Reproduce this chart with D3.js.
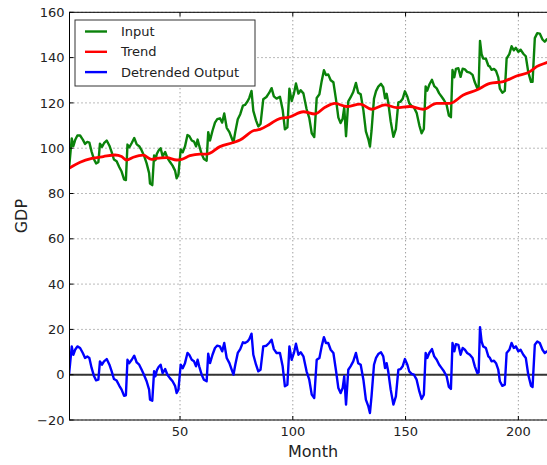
<!DOCTYPE html>
<html lang="en">
<head>
<meta charset="UTF-8">
<title>GDP detrend</title>
<script src="https://d3js.org/d3.v7.min.js"></script>
<style>
  body { margin: 0; background: #fff; }
  svg { display: block; font-family: "DejaVu Sans", sans-serif; }
</style>
</head>
<body>
<div id="chart"></div>
<script>
// sample months (x) shared by input and detrended output
var months = [0.8,2,2.7,3.5,4.5,5.7,6.9,7.9,8.9,9.8,10.8,11.9,12.8,13.8,14.5,15.4,16.3,17.5,18.7,19.7,
  20.7,21.9,23.1,24.1,25.2,26,26.7,27.5,28.6,29.7,30.8,31.9,33,34,35.2,36.3,36.7,37.7,38.5,39.1,
  39.7,40.5,41.4,42.3,43.4,44.4,45.5,46.7,47.8,48.5,49.3,50.3,51.2,52.2,53.3,54.1,55.2,56.2,57.1,57.8,
  58.5,59.6,60.6,61.8,62.5,63.3,64.4,65.5,66.5,67.7,68.7,69.6,70.7,71.9,72.9,73.7,74.5,75.6,76.7,77.9,
  78.8,79.9,80.7,81.7,82.5,83.7,84.7,85.7,86.9,88.3,89.5,90.6,91.6,92.8,94.3,95.5,96.5,97.6,98.5,99.5,
  100.5,101.4,102.5,103.5,104.7,106.1,107.3,108.4,109.5,110.6,111.8,112.8,113.8,114.7,115.7,116.8,118,119.1,120.2,121.2,
  122.1,122.8,123.6,124.6,125.6,126.8,128,129,130.1,131.3,132.4,133.5,134.2,134.9,136,136.9,137.9,139.1,140.1,140.9,
  141.6,142.3,143.4,144.6,145.7,146.8,147.8,148.7,149.7,150.8,151.6,152.7,153.7,154.9,156.1,157.1,158.1,158.9,159.6,160.5,
  161.7,162.7,163.8,164.9,166,167,168.2,169.2,170.1,170.8,171.6,172.3,173.4,174.4,175.3,176.3,177.3,178.5,179.7,180.7,
  181.8,182.4,183,183.7,184.4,185.6,186.7,187.4,188.1,189.2,190.1,191.1,191.8,192.9,194,194.8,196,197,198,198.9,
  200,201,202.2,203.3,204.4,205.6,206.3,207.3,208.4,209.5,210.7,211.7,212.6,214,216.5];

var inputValues = [91.1,104.3,100.9,103.6,105.6,105.6,103.8,101.9,102.8,102.5,98.5,95,93.3,93.8,102,100.6,102.2,103.4,101.1,98.3,
  95,94.2,91.6,89.7,86.2,85.9,101.6,100.4,102.3,104.5,101.7,100.9,99,96.8,93.3,89,84.4,83.7,96.8,94.7,
  97.4,99,100,96.4,98.3,95.7,94,92.3,90.1,86.7,88.3,99.4,98.2,100.8,105.8,105.4,103.4,102.9,100.8,103.8,
  101.1,97.4,95.2,94.5,107.1,103.4,107.7,111.3,112.8,113.2,111.3,115.3,109,107.1,104.5,102.5,107.2,112.8,115,118.8,
  119.1,120.6,122.2,125.3,116.5,112.3,109.6,110.7,121.6,122.6,124.4,126.5,122.9,121.9,122.7,117,108.3,109.2,126.3,120.8,
  124.1,128.6,124.1,125.6,124.2,117.3,113.4,106.6,104.9,122.2,123.8,129.6,134.4,132.3,132.6,130,129.1,121.9,113.5,111.1,
  113,118,105.3,120.7,122.4,124.8,128.8,124.5,123.8,116.7,107.4,103.9,100.7,107.6,121.9,125.2,127.2,128.4,126.9,122,
  124,120.3,111.9,105,108.4,120.2,120.6,121.8,125.1,122.7,119.9,118.6,118,115.6,110.1,106.6,108.5,127.3,125.4,128,
  130.2,127.4,126.4,124.2,122.7,121.3,119.1,114.4,113.7,134.5,131.3,135,135.3,131.5,135.1,134.8,133.7,133.4,132.4,129.1,
  126.5,127.1,147.4,141.5,139.6,139.5,136.4,136,134.6,135,134.1,131.3,126.3,124.5,125.3,139.6,141.5,145,143.2,144.3,
  142.5,143.5,141.7,140.6,133.6,129.3,129.3,148.6,150.8,150.6,148,147,148.1,147.3,147.3];

var detrendedValues = [0,12.5,8.8,11,12.5,11.8,9.6,7.4,8,7.4,3,-0.7,-2.5,-2.2,5.9,4.4,5.9,6.9,4.4,1.5,
  -1.9,-2.6,-4.9,-6.6,-9.3,-9.1,6.6,5.1,6.6,8.4,5.4,4.4,2.2,0,-2.9,-6.6,-11,-11.5,1.5,-0.7,
  1.9,3.4,4.4,0.7,2.5,0,-1.5,-2.9,-4.9,-8.1,-6.6,4.4,2.9,5.1,9.6,8.8,6.6,5.9,3.7,6.6,
  3.7,0,-2.2,-2.9,9.3,5.1,8.8,11.8,12.8,12.5,10.3,14,7.4,5.1,2.2,0,4.4,9.6,11.3,14.3,
  14,14.7,15.7,18.1,8.8,4.4,1.5,2.2,12.5,12.8,14,15.4,11.3,9.6,9.6,3.7,-5.1,-4.4,12.5,6.6,
  9.6,13.7,8.8,9.9,8.1,1.5,-2.2,-8.8,-10.3,6.6,7.4,12.5,16.6,14,14,11,9.6,2.2,-5.9,-8.1,
  -5.9,-0.7,-13.2,2.2,3.7,5.9,9.6,5.1,4.4,-2.2,-11,-14,-16.9,-9.6,4.4,7.4,9.1,9.9,8.1,2.9,
  5.1,1.5,-6.6,-13.2,-9.6,2.2,2.5,3.7,6.9,4.4,1.5,0.4,0,-2.2,-7.4,-10.7,-8.8,9.6,7.4,9.6,
  11.3,8.1,6.6,4.4,2.9,1.5,-0.7,-5.4,-6.3,14,10.3,13.5,13.2,8.8,11.8,11,9.6,8.8,7.4,3.7,
  0.7,1,21,14.7,12.5,11.8,8.1,7.4,5.9,6.2,5.1,2.2,-2.9,-4.9,-4.4,9.6,11,14,11.8,12.5,
  10.3,11,8.8,7.4,0,-4.9,-5.4,13.2,14.7,14,11,9.6,10.3,9,8];

var trendMonths = [0.8,5.7,10.9,16,21.2,24.1,26.3,29.3,33.7,37.4,39.6,44.1,48.5,50.7,54.4,58.8,61.8,67.7,73.6,76.6,
  82.5,85.4,89.8,94.2,98,104.7,109.8,114.3,118.7,123.9,129.8,135,140.9,146,151.9,157.8,163.8,169.7,175.6,181.5,
  187.4,193.3,199.2,205.1,208.1,212.6,216.5];
var trendValues = [91.1,93.8,95.5,96.3,97,96.3,94.8,96,96.9,95.1,95.5,95.8,94.8,95.1,96.7,97.4,97.4,100.7,102.5,103.6,
  107.7,108.3,110.6,113.1,113.6,116.1,115.1,118.1,119.8,118.4,119.5,117.2,119.1,117.9,118.4,117.2,119.8,119.8,123.5,125.7,
  128.6,129.4,131.9,133.8,136,137.8,139.3];

var xTicks = [50, 100, 150, 200];
var yTicks = [-20, 0, 20, 40, 60, 80, 100, 120, 140, 160];
var legendNames = ["Input", "Trend", "Detrended Output"];
var legendColors = ["#0a820a", "#ff0000", "#0000ff"];

var W = 547, H = 465;
var pLeft = 69.5, pRight = 556.7, pTop = 12.3, pBottom = 420;

var svg = d3.select("#chart").append("svg")
    .attr("width", W)
    .attr("height", H);

var x = d3.scaleLinear().domain([1, 217]).range([pLeft, pRight]);
var y = d3.scaleLinear().domain([-20, 160]).range([pBottom, pTop]);

svg.append("clipPath").attr("id", "plot-clip")
  .append("rect")
    .attr("x", pLeft).attr("y", pTop)
    .attr("width", pRight - pLeft).attr("height", pBottom - pTop);

// grid
var grid = svg.append("g");
grid.selectAll(".gx").data(xTicks).enter().append("line")
    .attr("x1", function(d){ return x(d); }).attr("x2", function(d){ return x(d); })
    .attr("y1", pTop).attr("y2", pBottom)
    .attr("stroke", "#666").attr("stroke-width", 0.9).attr("stroke-dasharray", "1,3");
grid.selectAll(".gy").data(yTicks).enter().append("line")
    .attr("x1", pLeft).attr("x2", pRight)
    .attr("y1", function(d){ return y(d); }).attr("y2", function(d){ return y(d); })
    .attr("stroke", "#666").attr("stroke-width", 0.9).attr("stroke-dasharray", "1,3");

var plot = svg.append("g").attr("clip-path", "url(#plot-clip)");

// zero line
plot.append("line")
    .attr("x1", pLeft).attr("x2", pRight)
    .attr("y1", y(0)).attr("y2", y(0))
    .attr("stroke", "#333").attr("stroke-width", 2);

var line = d3.line()
    .x(function(d){ return x(d[0]); })
    .y(function(d){ return y(d[1]); });

plot.append("path")
    .datum(d3.zip(months, inputValues))
    .attr("d", line)
    .attr("fill", "none").attr("stroke", legendColors[0]).attr("stroke-width", 2.4)
    .attr("stroke-linejoin", "round");

plot.append("path")
    .datum(d3.zip(trendMonths, trendValues))
    .attr("d", line.curve(d3.curveMonotoneX))
    .attr("fill", "none").attr("stroke", legendColors[1]).attr("stroke-width", 2.8);

line.curve(d3.curveLinear);
plot.append("path")
    .datum(d3.zip(months, detrendedValues))
    .attr("d", line)
    .attr("fill", "none").attr("stroke", legendColors[2]).attr("stroke-width", 2.4)
    .attr("stroke-linejoin", "round");

// frame
svg.append("rect")
    .attr("x", pLeft).attr("y", pTop)
    .attr("width", pRight - pLeft).attr("height", pBottom - pTop)
    .attr("fill", "none").attr("stroke", "#000").attr("stroke-width", 1);

// ticks (inward, all sides)
var ticks = svg.append("g").attr("stroke", "#000").attr("stroke-width", 1);
xTicks.forEach(function(t){
  ticks.append("line").attr("x1", x(t)).attr("x2", x(t)).attr("y1", pBottom).attr("y2", pBottom - 4);
  ticks.append("line").attr("x1", x(t)).attr("x2", x(t)).attr("y1", pTop).attr("y2", pTop + 4);
});
yTicks.forEach(function(t){
  ticks.append("line").attr("x1", pLeft).attr("x2", pLeft + 4).attr("y1", y(t)).attr("y2", y(t));
  ticks.append("line").attr("x1", pRight).attr("x2", pRight - 4).attr("y1", y(t)).attr("y2", y(t));
});

// tick labels
svg.selectAll(".xl").data(xTicks).enter().append("text")
    .attr("x", function(d){ return x(d); })
    .attr("y", pBottom + 16)
    .attr("text-anchor", "middle")
    .attr("font-size", "13px").attr("fill", "#222")
    .text(function(d){ return d; });

svg.selectAll(".yl").data(yTicks).enter().append("text")
    .attr("x", pLeft - 5)
    .attr("y", function(d){ return y(d); })
    .attr("dy", "0.36em")
    .attr("text-anchor", "end")
    .attr("font-size", "13px").attr("fill", "#222")
    .text(function(d){ return d < 0 ? "\u2212" + Math.abs(d) : d; });

// axis titles
svg.append("text")
    .attr("x", (pLeft + pRight) / 2)
    .attr("y", 457)
    .attr("text-anchor", "middle")
    .attr("font-size", "16px").attr("fill", "#222")
    .text("Month");

svg.append("text")
    .attr("transform", "translate(27," + ((pTop + pBottom) / 2) + ") rotate(-90)")
    .attr("text-anchor", "middle")
    .attr("font-size", "16px").attr("fill", "#222")
    .text("GDP");

// legend
var lg = svg.append("g");
lg.append("rect")
    .attr("x", 75).attr("y", 20).attr("width", 180).attr("height", 66)
    .attr("fill", "#fff").attr("stroke", "#333").attr("stroke-width", 1);
legendNames.forEach(function(name, i){
  var ly = 31.5 + i * 20.3;
  lg.append("line")
      .attr("x1", 85).attr("x2", 107).attr("y1", ly).attr("y2", ly)
      .attr("stroke", legendColors[i]).attr("stroke-width", 2.4);
  lg.append("text")
      .attr("x", 121).attr("y", ly).attr("dy", "0.36em")
      .attr("font-size", "13px").attr("fill", "#222")
      .text(name);
});
</script>
</body>
</html>
